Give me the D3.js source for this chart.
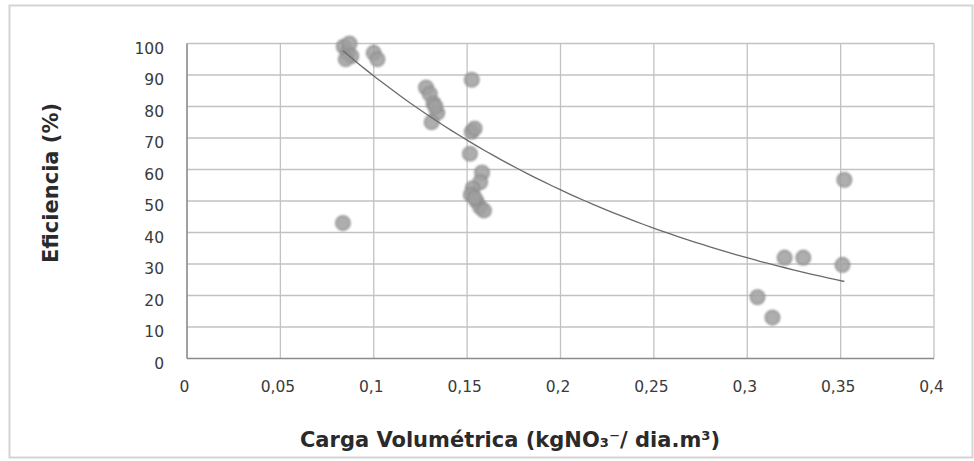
<!DOCTYPE html>
<html>
<head>
<meta charset="utf-8">
<script src="https://cdn.jsdelivr.net/npm/d3@7"></script>
<style>
  body { margin: 0; background: #fff; }
  svg text { font-family: "DejaVu Sans", Verdana, sans-serif; }
</style>
</head>
<body>
<div id="chart"></div>
<script>
// values
const carga = [0.084, 0.086, 0.087, 0.088, 0.085,
               0.100, 0.102,
               0.128, 0.130, 0.132, 0.134, 0.131, 0.133,
               0.1525, 0.1525, 0.154, 0.1515,
               0.158, 0.157, 0.153, 0.152, 0.155, 0.157, 0.159, 0.154,
               0.0835,
               0.3055, 0.3135, 0.320, 0.330, 0.351, 0.352];
const eficiencia = [99, 97, 100, 96, 95,
                    97, 95,
                    86, 84, 81, 78, 75, 80,
                    88.5, 72, 73, 65,
                    59, 56, 54, 52, 50, 48, 47, 51,
                    43,
                    19.5, 13, 32, 32, 29.7, 56.7];
// exponential trendline y = A·e^(B·x), as drawn in the reference
const trendA = 150.3;
const trendB = -5.16;
const xTicks = [0, 0.05, 0.1, 0.15, 0.2, 0.25, 0.3, 0.35, 0.4];
const yTicks = [0, 10, 20, 30, 40, 50, 60, 70, 80, 90, 100];

const W = 974, H = 461;
const m = { left: 187, right: 934, top: 43.5, bottom: 358.5 };

const svg = d3.select('#chart').append('svg')
    .attr('width', W).attr('height', H);

const defs = svg.append('defs');
defs.append('filter').attr('id', 'soft')
    .append('feGaussianBlur').attr('stdDeviation', 1);

// outer frame
svg.append('rect')
    .attr('x', 9.5).attr('y', 5.5)
    .attr('width', 963).attr('height', 452)
    .attr('fill', '#fff').attr('stroke', '#d4d4d4').attr('stroke-width', 2);

const x = d3.scaleLinear().domain([0, 0.4]).range([m.left, m.right]);
const y = d3.scaleLinear().domain([0, 100]).range([m.bottom, m.top]);

// gridlines
svg.append('g').selectAll('line').data(yTicks.slice(1)).enter().append('line')
    .attr('x1', m.left).attr('x2', m.right)
    .attr('y1', d => y(d)).attr('y2', d => y(d))
    .attr('stroke', '#c2c2c2').attr('stroke-width', 1.3);
svg.append('g').selectAll('line').data(xTicks.slice(1)).enter().append('line')
    .attr('x1', d => x(d)).attr('x2', d => x(d))
    .attr('y1', m.top).attr('y2', m.bottom)
    .attr('stroke', '#c2c2c2').attr('stroke-width', 1.3);

// axes
const fmt = d => String(d).replace('.', ',');
const xAxis = svg.append('g')
    .attr('transform', `translate(-3,${m.bottom})`)
    .call(d3.axisBottom(x).tickValues(xTicks).tickFormat(fmt).tickSize(0).tickPadding(22));
const yAxis = svg.append('g')
    .attr('transform', `translate(${m.left},5)`)
    .call(d3.axisLeft(y).tickValues(yTicks).tickSize(0).tickPadding(23));
[xAxis, yAxis].forEach(g => {
    g.select('.domain').remove();
    g.selectAll('text').attr('font-size', 15.5).attr('fill', '#3a3a3a')
        .attr('font-family', '"DejaVu Sans", Verdana, sans-serif');
});
svg.append('line').attr('x1', m.left).attr('x2', m.left)
    .attr('y1', m.top).attr('y2', m.bottom).attr('stroke', '#8a8a8a').attr('stroke-width', 1.6);
svg.append('line').attr('x1', m.left).attr('x2', m.right)
    .attr('y1', m.bottom).attr('y2', m.bottom).attr('stroke', '#8a8a8a').attr('stroke-width', 1.6);

// points
const pts = carga.map((c, i) => ({ c: c, e: eficiencia[i] }));
svg.append('g').attr('filter', 'url(#soft)')
    .selectAll('circle').data(pts).enter().append('circle')
    .attr('cx', d => x(d.c)).attr('cy', d => y(d.e)).attr('r', 7.2)
    .attr('fill', '#a0a0a0').attr('fill-opacity', 0.85)
    .attr('stroke', '#8a8a8a').attr('stroke-width', 1.3);

// trendline across the data range
const [x0, x1] = d3.extent(carga);
const trend = d3.range(0, 61).map(i => x0 + (x1 - x0) * i / 60)
    .map(c => [c, trendA * Math.exp(trendB * c)]);
svg.append('path').datum(trend)
    .attr('d', d3.line().x(d => x(d[0])).y(d => y(d[1])))
    .attr('fill', 'none').attr('stroke', '#6a6a6a').attr('stroke-width', 1.3);

// axis titles
svg.append('text')
    .attr('transform', 'translate(51,183) rotate(-90)')
    .attr('text-anchor', 'middle').attr('dominant-baseline', 'central')
    .attr('font-size', 21).attr('font-weight', 'bold')
    .attr('fill', '#2a2a2a').text('Eficiencia (%)');
svg.append('text')
    .attr('x', 510).attr('y', 440)
    .attr('text-anchor', 'middle').attr('dominant-baseline', 'central')
    .attr('font-size', 21).attr('font-weight', 'bold')
    .attr('fill', '#2a2a2a')
    .text('Carga Volumétrica (kgNO₃⁻/ dia.m³)');
</script>
</body>
</html>
